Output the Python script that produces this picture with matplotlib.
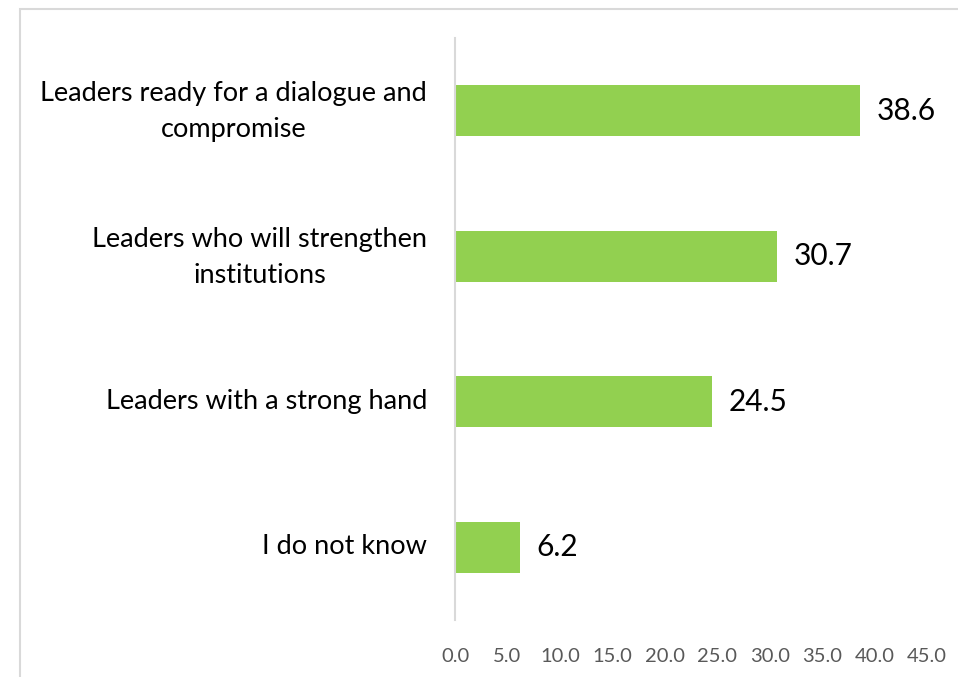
import matplotlib
matplotlib.use("Agg")
import matplotlib.pyplot as plt
from matplotlib.patches import Rectangle
from matplotlib.transforms import ScaledTranslation

categories = [
    "Leaders ready for a dialogue and\ncompromise",
    "Leaders who will strengthen\ninstitutions",
    "Leaders with a strong hand",
    "I do not know",
]
values = [38.6, 30.7, 24.5, 6.2]
ticks = [0, 5, 10, 15, 20, 25, 30, 35, 40, 45]

plt.rcParams["font.family"] = ["Lato", "DejaVu Sans"]

fig = plt.figure(figsize=(9.58, 6.77), dpi=100)
fig.patch.set_facecolor("white")

# chart-area border
fig.add_artist(Rectangle((20 / 958, -0.01), 1.0, (677 - 9) / 677 + 0.01,
                         transform=fig.transFigure, fill=False,
                         edgecolor="#D9D9D9", linewidth=1.5))

ax = fig.add_axes([455 / 958, (677 - 620) / 677, 472 / 958, 582 / 677])
y = list(range(len(categories)))
bars = ax.barh(y, values, height=0.35, color="#92D050")
ax.set_ylim(len(categories) - 0.5, -0.5)
ax.set_xlim(0, 45)

for rect, v in zip(bars, values):
    ax.annotate(f"{v:.1f}", (v, rect.get_y() + rect.get_height() / 2),
                xytext=(12, 0), textcoords="offset points",
                ha="left", va="center", fontsize=21.5, color="black")

ax.set_yticks(y)
ax.set_yticklabels(categories, fontsize=19.5, color="black",
                   multialignment="center", linespacing=1.55)
ax.tick_params(axis="y", length=0, pad=20)
# nudge category labels up so they sit centred on their bars
for lbl in ax.get_yticklabels():
    dy = 7 if "\n" in lbl.get_text() else 3
    lbl.set_transform(lbl.get_transform() +
                      ScaledTranslation(0, dy / 100, fig.dpi_scale_trans))

ax.set_xticks(ticks)
ax.set_xticklabels([f"{t:.1f}" for t in ticks], fontsize=14.5, color="#595959")
ax.tick_params(axis="x", length=0, pad=20)

for s in ["top", "right", "bottom"]:
    ax.spines[s].set_visible(False)
ax.spines["left"].set_color("#D9D9D9")
ax.spines["left"].set_linewidth(1.5)

fig.savefig("out.png", dpi=100, facecolor="white")
